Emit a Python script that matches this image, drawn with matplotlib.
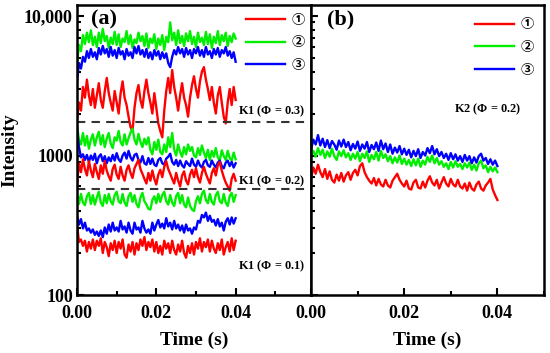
import numpy as np
import matplotlib

matplotlib.use("Agg")

import matplotlib.pyplot as plt
from matplotlib.ticker import FixedLocator, LogLocator, NullFormatter, MultipleLocator

# ----- data -----
# panel (a): K1 at three equivalence ratios, curves 1/2/3
k1_03_red = [1800, 2400, 2100, 3100, 2600, 3500, 2700, 2300, 3000, 2200,
             2700, 3300, 2500, 2200, 2900, 3600, 2800, 2400, 2100, 2900,
             2400, 2000, 2800, 3400, 2600, 2300, 1900, 1600, 1500, 2200,
             2800, 3200, 2500, 2200, 2900, 3500, 2800, 2400, 2000, 2800,
             2200, 1700, 1500, 1350, 2100, 2900, 3600, 2800, 4100, 3100,
             2600, 2100, 2700, 3300, 2600, 2300, 1900, 2600, 3200, 3700,
             3000, 2600, 3400, 4000, 4300, 3500, 3000, 2500, 3100, 2400,
             2000, 2700, 3100, 2400, 1900, 1700, 2400, 3000, 2300, 3100, 2500]
k1_03_green = [4600, 6200, 5600, 7300, 6300, 7600, 6500, 7900, 6200, 7100,
               6000, 7600, 6400, 8100, 6600, 7200, 5900, 7000, 6300, 7700,
               6200, 7400, 6000, 6900, 6500, 7800, 6300, 7300, 5900, 6800,
               6400, 7600, 6600, 7200, 6100, 7500, 5900, 6900, 6400, 7400,
               5800, 6900, 6200, 7300, 5700, 7100, 6500, 9000, 6700, 7600,
               6200, 7900, 6400, 7200, 6100, 7500, 6600, 7800, 6300, 7100,
               6000, 7600, 6500, 7000, 6200, 7700, 6300, 7400, 5900, 7100,
               6400, 7800, 6200, 7300, 6600, 7600, 6100, 7200, 6500, 7500, 6900]
k1_03_blue = [3400, 4600, 4200, 5100, 4700, 5600, 5000, 5800, 5100, 5500,
              4900, 5900, 5300, 6100, 5400, 5800, 5100, 6000, 5200, 5700,
              5000, 5900, 5300, 5600, 4900, 5800, 5200, 5500, 5000, 6000,
              5400, 6100, 5300, 5700, 5100, 5800, 5000, 5500, 4900, 5700,
              5200, 5600, 4900, 5500, 5000, 5400, 4600, 4300, 5100, 5700,
              5300, 6000, 5400, 5800, 5100, 5900, 5300, 5700, 5000, 5800,
              5400, 6000, 5200, 5700, 5100, 6000, 5300, 5600, 5000, 5800,
              5300, 5900, 5100, 5700, 5400, 6000, 5200, 5600, 5000, 5500, 4700]

k1_02_red = [620, 880, 760, 940, 800, 720, 910, 780, 700, 870,
             760, 680, 850, 740, 910, 780, 710, 660, 800, 860,
             730, 680, 830, 720, 660, 790, 850, 750, 690, 810,
             870, 930, 800, 740, 680, 630, 750, 660, 780, 680,
             620, 730, 790, 700, 830, 910, 800, 740, 680, 630,
             750, 660, 600, 720, 770, 660, 620, 730, 790, 700,
             810, 700, 640, 750, 830, 740, 680, 630, 750, 810,
             720, 850, 900, 780, 700, 640, 600, 560, 680, 740, 660]
k1_02_green = [1650, 1300, 1200, 1450, 1180, 1380, 1120, 1300, 1420, 1180,
               1350, 1480, 1200, 1400, 1150, 1320, 1450, 1220, 1130, 1350,
               1280, 1500, 1250, 1180, 1420, 1200, 1330, 1460, 1560, 1300,
               1200, 1430, 1250, 1150, 1320, 1200, 1350, 1100, 1020, 1250,
               1100, 1300, 1060, 1020, 1200, 1060, 1350, 1150, 1450, 1100,
               1000, 1200, 1060, 980, 1150, 1020, 1200, 1080, 1150, 1000,
               970, 1130, 1010, 1180, 1050, 960, 1100, 930, 1080, 980,
               1130, 970, 920, 1090, 990, 930, 1080, 960, 920, 1050, 940]
k1_02_blue = [1550, 1150, 970, 1020, 930, 1010, 900, 1000, 930, 1030,
              880, 980, 1020, 910, 990, 880, 970, 910, 1010, 920,
              1040, 940, 900, 1000, 1050, 950, 1080, 970, 920, 1010,
              1030, 930, 890, 990, 880, 860, 960, 870, 950, 860,
              840, 930, 960, 880, 860, 950, 980, 1030, 900, 860,
              930, 840, 920, 850, 820, 910, 870, 840, 950, 860,
              830, 920, 850, 820, 900, 930, 850, 830, 920, 860,
              820, 890, 920, 840, 810, 890, 920, 840, 900, 820, 880]

k1_01_red = [320, 240, 250, 225, 245, 205, 240, 215, 250, 210,
             245, 225, 255, 200, 240, 220, 190, 235, 210, 245,
             200, 240, 215, 250, 195, 185, 230, 205, 240, 195,
             235, 210, 250, 225, 260, 210, 240, 220, 250, 205,
             240, 200, 225, 195, 245, 215, 235, 200, 245, 210,
             195, 230, 205, 245, 200, 185, 225, 200, 235, 195,
             240, 215, 255, 205, 240, 220, 250, 205, 245, 215,
             200, 235, 210, 250, 195, 220, 240, 205, 255, 210, 245]
k1_01_green = [510, 450, 530, 460, 440, 510, 540, 450, 520, 445,
               500, 550, 460, 435, 520, 455, 530, 470, 445, 520,
               550, 470, 455, 530, 460, 435, 510, 540, 465, 520,
               450, 425, 500, 540, 470, 445, 415, 410, 480, 510,
               455, 530, 465, 520, 550, 470, 445, 520, 460, 435,
               510, 540, 455, 520, 445, 425, 500, 435, 410, 400,
               470, 510, 455, 530, 560, 480, 455, 530, 465, 445,
               520, 550, 470, 455, 530, 460, 435, 510, 540, 465, 520]
k1_01_blue = [370, 320, 350, 300, 330, 290, 300, 280, 295, 270,
              285, 265, 290, 260, 305, 275, 320, 285, 330, 290,
              305, 285, 340, 295, 310, 280, 330, 290, 275, 330,
              295, 305, 280, 340, 300, 280, 295, 275, 330, 290,
              320, 345, 305, 325, 300, 355, 310, 330, 295, 340,
              300, 320, 290, 315, 280, 320, 290, 300, 275, 305,
              295, 340, 330, 375, 360, 390, 340, 370, 335, 345,
              315, 350, 310, 330, 290, 335, 355, 320, 360, 325, 355]

# panel (b): K2, phi = 0.2
k2_red = [680, 820, 740, 860, 760, 700, 800, 680, 770, 670,
          640, 730, 660, 750, 650, 720, 760, 670, 750, 790,
          720, 840, 880, 760, 700, 660, 630, 690, 610, 680,
          620, 600, 670, 610, 590, 660, 700, 740, 670, 630,
          600, 660, 580, 570, 640, 670, 590, 580, 650, 590,
          660, 710, 640, 610, 670, 580, 640, 700, 630, 600,
          680, 620, 600, 670, 600, 580, 630, 560, 640, 580,
          560, 620, 650, 580, 560, 610, 640, 680, 570, 520, 480]
k2_green = [1000, 1080, 980, 1130, 1010, 1100, 960, 1070, 980, 1120,
            990, 930, 1070, 990, 1090, 970, 1040, 930, 1030, 950,
            1060, 910, 1030, 960, 1070, 900, 1010, 940, 1060, 920,
            1080, 960, 1020, 910, 990, 880, 970, 890, 1000, 870,
            950, 860, 930, 840, 940, 850, 950, 830, 920, 860,
            980, 900, 1000, 880, 960, 860, 910, 830, 880, 800,
            900, 820, 910, 830, 870, 800, 880, 820, 890, 790,
            860, 780, 880, 920, 810, 850, 760, 830, 770, 820, 760]
k2_blue = [1100, 1300, 1200, 1400, 1180, 1320, 1150, 1290, 1130, 1270,
           1200, 1100, 1280, 1160, 1300, 1150, 1250, 1090, 1210, 1120,
           1260, 1080, 1200, 1120, 1250, 1060, 1190, 1110, 1240, 1080,
           1280, 1110, 1220, 1060, 1200, 1030, 1140, 1050, 1170, 1020,
           1120, 1010, 1100, 970, 1080, 990, 1110, 960, 1060, 1000,
           1130, 1040, 1170, 1020, 1110, 990, 1060, 960, 1030, 930,
           1040, 940, 1020, 920, 990, 900, 1010, 920, 990, 880,
           970, 890, 990, 1030, 920, 960, 870, 940, 860, 920, 840]

t_end = 0.04
phi_lines = [1740, 574]   # dashed separators in panel (a)
legend_labels = ["\u2460", "\u2461", "\u2462"]
colors = ["#ff0000", "#00ee00", "#0000ff"]

plt.rcParams["font.family"] = ["Liberation Serif", "Noto Sans CJK SC", "DejaVu Sans"]
plt.rcParams["font.weight"] = "bold"
plt.rcParams["mathtext.fontset"] = "custom"
plt.rcParams["mathtext.it"] = "Liberation Serif:italic:bold"
plt.rcParams["mathtext.rm"] = "Liberation Serif:bold"

fig = plt.figure(figsize=(5.5, 3.53), dpi=100)
ax1 = fig.add_axes([77 / 550, 1 - 295 / 353, 234 / 550, 290 / 353])
ax2 = fig.add_axes([311 / 550, 1 - 295 / 353, 233 / 550, 290 / 353])


def trace(ax, y, color, label=None):
    t = np.linspace(0, t_end, len(y))
    ax.plot(t, y, color=color, lw=1.7, label=label)


groups_a = [(k1_03_red, k1_03_green, k1_03_blue),
            (k1_02_red, k1_02_green, k1_02_blue),
            (k1_01_red, k1_01_green, k1_01_blue)]
for i, (r, g, b) in enumerate(groups_a):
    first = i == 0
    trace(ax1, g, colors[1], legend_labels[1] if first else None)
    trace(ax1, b, colors[2], legend_labels[2] if first else None)
    trace(ax1, r, colors[0], legend_labels[0] if first else None)

trace(ax2, k2_green, colors[1], legend_labels[1])
trace(ax2, k2_blue, colors[2], legend_labels[2])
trace(ax2, k2_red, colors[0], legend_labels[0])

for yv in phi_lines:
    ax1.axhline(yv, color="#333333", ls=(0, (4, 3)), lw=1.5)

for ax, xmax in [(ax1, 0.059), (ax2, 0.05)]:
    ax.set_yscale("log")
    ax.set_ylim(100, 12000)
    ax.set_xlim(0, xmax)
    ax.xaxis.set_major_locator(FixedLocator([0, 0.02, 0.04]))
    ax.xaxis.set_minor_locator(MultipleLocator(0.01))
    ax.yaxis.set_major_locator(FixedLocator([100, 1000, 10000]))
    ax.yaxis.set_minor_locator(LogLocator(base=10, subs=np.arange(2, 10)))
    ax.yaxis.set_minor_formatter(NullFormatter())
    ax.tick_params(which="both", direction="in", top=False, right=False,
                   labelsize=13, width=1.5)
    ax.tick_params(which="major", length=5, pad=7)
    ax.tick_params(which="minor", length=3)
    for s in ax.spines.values():
        s.set_linewidth(1.8)
    ax.set_xticklabels(["0.00", "0.02", "0.04"])
    ax.set_xlabel("Time (s)", fontsize=14, fontweight="bold", labelpad=7)

# legend order: 1, 2, 3
for ax, anchor in [(ax1, (0.972, 0.968)), (ax2, (0.955, 0.952))]:
    h, l = ax.get_legend_handles_labels()
    order = [l.index(s) for s in legend_labels]
    ax.legend([h[k] for k in order], [l[k] for k in order],
              loc="upper right", bbox_to_anchor=anchor, frameon=False,
              handlelength=2.9, handletextpad=0.5, labelspacing=0.8,
              fontsize=9.5, borderaxespad=0, borderpad=0)

ax1.set_yticklabels(["100", "1000", "10,000"])
ax1.tick_params(axis="y", pad=3)
ax2.set_yticklabels([])
ax1.set_ylabel("Intensity", fontsize=14, fontweight="bold", labelpad=4)

ax1.text(0.06, 0.985, "(a)", transform=ax1.transAxes, fontsize=16,
         fontweight="bold", va="top")
ax2.text(0.07, 0.985, "(b)", transform=ax2.transAxes, fontsize=16,
         fontweight="bold", va="top")

kw = dict(fontsize=8.8, fontweight="bold", va="center", ha="left")
ax1.text(0.0405, 2075, r"K1 ($\mathit{\Phi}$ = 0.3)", **kw)
ax1.text(0.0405, 658, r"K1 ($\mathit{\Phi}$ = 0.2)", **kw)
ax1.text(0.0405, 161, r"K1 ($\mathit{\Phi}$ = 0.1)", **kw)
ax2.text(0.0307, 2142, r"K2 ($\mathit{\Phi}$ = 0.2)", **kw)

fig.savefig("out.png", dpi=100)
